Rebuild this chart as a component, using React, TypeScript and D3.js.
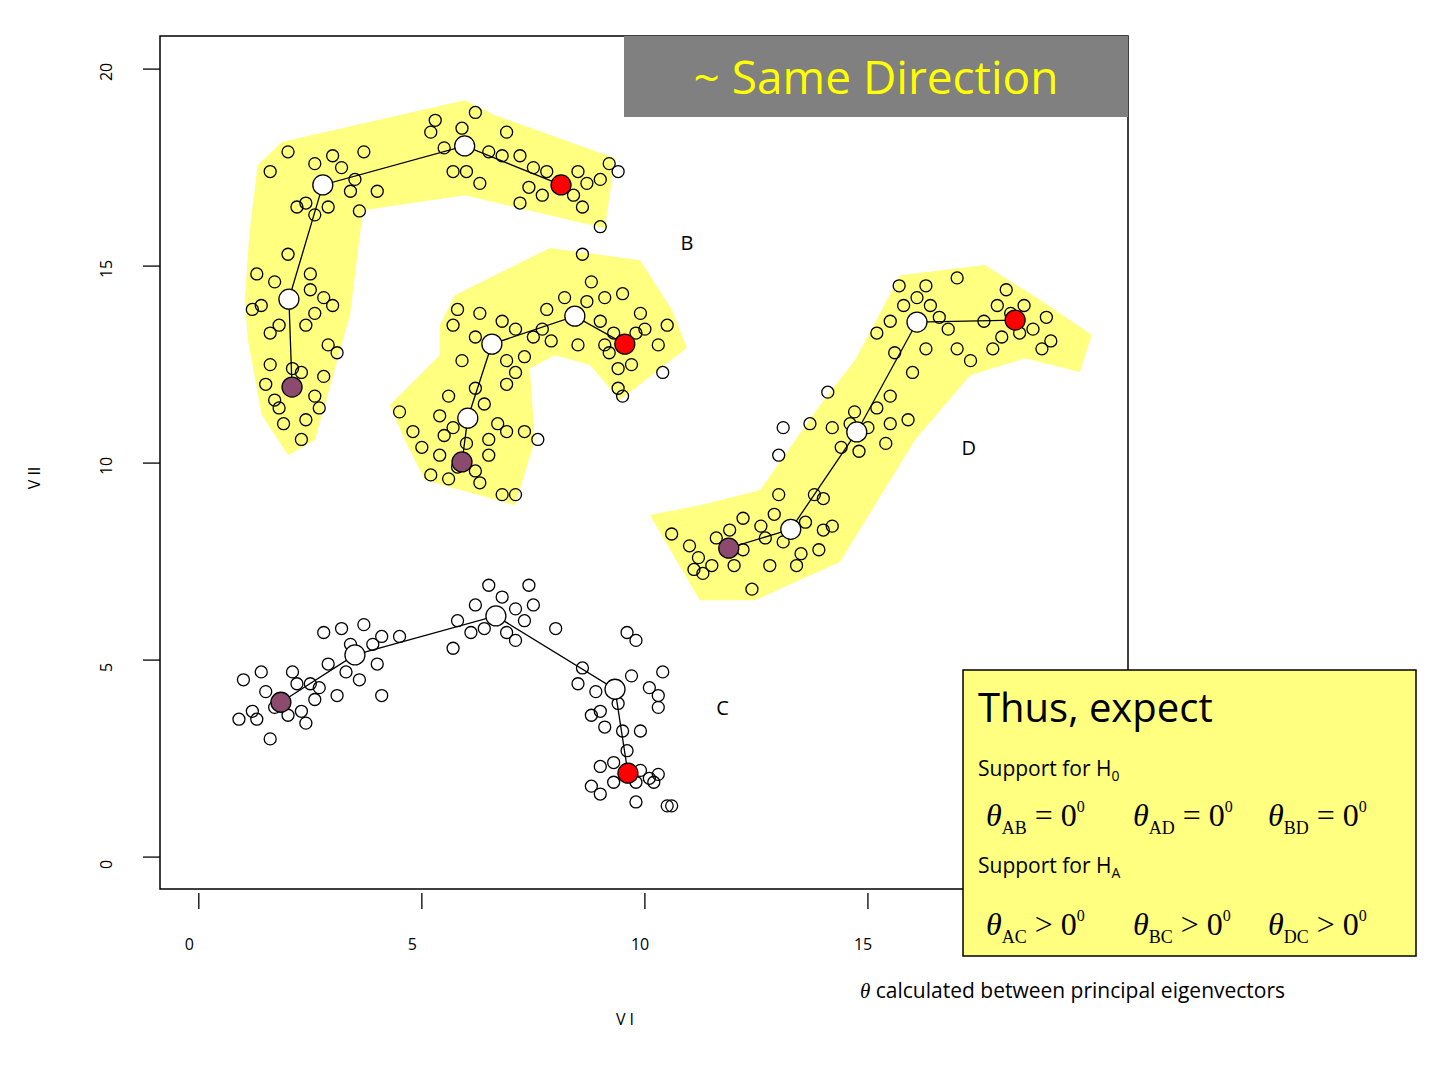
import React from 'react';
import * as d3 from 'd3';

type P = [number, number];

const xTicks = [0, 5, 10, 15];
const yTicks = [0, 5, 10, 15, 20];

// centroid paths per group: first = start (purple), last = end (red)
const centA: P[] = [[2.09, 11.93], [2.02, 14.16], [2.78, 17.06], [5.96, 18.05], [8.12, 17.06]];
const centB: P[] = [[5.9, 10.03], [6.03, 11.14], [6.57, 13.02], [8.43, 13.73], [9.55, 13.02]];
const centC: P[] = [[1.84, 3.93], [3.5, 5.13], [6.66, 6.12], [9.33, 4.26], [9.62, 2.13]];
const centD: P[] = [[11.88, 7.84], [13.27, 8.32], [14.75, 10.79], [16.1, 13.58], [18.3, 13.63]];

const hullA: P[] = [[1.32, 17.56], [1.86, 18.15], [5.96, 19.21], [6.64, 18.83], [9.33, 17.74], [9.1, 15.96], [5.96, 16.8], [3.68, 16.42], [3.39, 13.76], [2.6, 10.58], [2.0, 10.2], [1.41, 11.22], [1.1, 13.12], [1.03, 14.14], [1.14, 15.91]];
const hullB: P[] = [[5.4, 13.5], [5.74, 14.26], [7.87, 15.46], [9.89, 15.15], [10.61, 13.88], [10.94, 12.92], [9.44, 11.6], [8.77, 12.49], [7.98, 12.74], [7.42, 12.41], [7.53, 10.58], [7.09, 8.93], [5.07, 9.57], [4.62, 10.58], [4.28, 11.47], [5.4, 12.74]];
const hullD: P[] = [[10.11, 8.68], [11.23, 6.52], [12.47, 6.52], [14.37, 7.49], [16.05, 10.58], [17.29, 12.23], [18.52, 12.66], [19.75, 12.31], [20.02, 13.25], [18.86, 14.14], [17.62, 15.03], [15.72, 14.77], [14.71, 12.61], [13.92, 11.47], [12.58, 9.31], [11.23, 8.93]];

const ptsA: P[] = [
  [1.6, 12.5], [1.7, 11.6], [2.3, 12.3], [2.6, 11.7], [2.4, 11.1], [1.9, 11.0], [2.8, 12.2], [2.3, 10.6], [1.5, 12.0], [2.1, 12.4], [2.7, 11.4], [1.8, 11.4],
  [1.3, 14.8], [1.4, 14.0], [1.7, 14.6], [2.5, 14.4], [2.8, 14.2], [2.4, 13.5], [1.8, 13.5], [2.0, 15.3], [3.0, 14.0], [1.2, 13.9], [2.6, 13.8], [3.1, 12.8], [2.9, 13.0], [1.6, 13.3], [2.5, 14.8],
  [2.0, 17.9], [1.6, 17.4], [2.6, 17.6], [3.2, 17.5], [3.5, 17.2], [3.7, 17.9], [3.4, 16.9], [2.9, 16.5], [3.6, 16.4], [2.4, 16.6], [2.2, 16.5], [3.0, 17.8], [4.0, 16.9], [2.6, 16.3],
  [5.2, 18.4], [5.5, 18.0], [5.9, 18.5], [6.2, 18.9], [6.0, 17.4], [5.7, 17.4], [6.5, 17.9], [6.9, 18.4], [7.2, 17.8], [5.3, 18.7], [6.3, 17.1], [6.8, 17.8],
  [7.4, 17.0], [7.7, 16.8], [7.8, 17.4], [8.5, 17.4], [8.7, 17.1], [8.4, 16.8], [9.0, 17.2], [9.4, 17.4], [8.6, 16.5], [9.0, 16.0], [7.2, 16.6], [7.5, 17.5], [9.2, 17.6],
];
const ptsB: P[] = [
  [5.2, 9.7], [5.4, 10.2], [5.6, 9.6], [6.2, 9.8], [6.5, 10.2], [6.0, 10.5], [5.5, 10.7], [6.3, 9.5], [6.8, 9.2], [7.1, 9.2], [5.0, 10.4], [5.8, 9.9],
  [5.4, 11.2], [5.6, 11.7], [6.4, 11.5], [6.7, 11.0], [6.9, 10.8], [6.5, 10.6], [7.3, 10.8], [5.7, 10.9], [6.2, 11.9], [4.5, 11.3], [4.8, 10.8], [7.6, 10.6],
  [5.7, 13.5], [5.9, 12.6], [6.2, 13.2], [6.8, 13.6], [7.1, 13.4], [7.3, 12.7], [6.9, 12.6], [6.3, 13.8], [5.8, 13.9], [7.5, 13.2], [6.9, 12.0], [7.1, 12.3],
  [7.7, 13.4], [7.8, 13.9], [8.2, 14.2], [8.7, 14.1], [9.0, 13.6], [9.3, 13.3], [8.5, 13.0], [7.9, 13.1], [9.1, 14.2], [8.8, 14.6], [8.6, 15.3], [9.5, 14.3],
  [9.2, 12.8], [9.4, 12.4], [9.8, 13.3], [10.0, 13.4], [9.7, 12.5], [9.9, 13.8], [10.5, 13.5], [10.4, 12.3], [10.3, 13.0], [9.4, 11.9], [9.5, 11.7], [9.1, 13.0],
];
const ptsC: P[] = [
  [1.0, 4.5], [1.4, 4.7], [1.5, 4.2], [2.2, 4.4], [2.3, 3.7], [1.7, 3.8], [1.3, 3.5], [0.9, 3.5], [1.6, 3.0], [2.0, 3.6], [2.4, 3.4], [2.6, 4.0], [2.1, 4.7], [1.2, 3.7],
  [2.8, 5.7], [3.2, 5.8], [3.7, 5.9], [3.9, 5.4], [4.0, 4.9], [3.3, 4.7], [2.9, 4.9], [3.6, 4.5], [2.7, 4.3], [3.1, 4.1], [4.1, 4.1], [4.5, 5.6], [4.1, 5.6], [3.4, 5.4], [2.5, 4.4],
  [5.8, 6.0], [6.2, 6.4], [6.5, 6.9], [6.8, 6.6], [7.1, 6.3], [7.3, 6.0], [6.9, 5.7], [6.4, 5.8], [7.4, 6.9], [7.5, 6.4], [6.1, 5.7], [5.7, 5.3], [8.0, 5.8], [7.1, 5.5],
  [8.6, 4.8], [8.5, 4.4], [8.9, 4.2], [9.0, 3.7], [9.4, 3.9], [9.7, 4.6], [9.8, 5.5], [9.6, 5.7], [10.1, 4.3], [10.3, 4.1], [10.4, 4.7], [9.1, 3.3], [9.5, 3.2], [10.3, 3.8], [8.8, 3.6], [9.9, 3.2],
  [9.0, 2.3], [9.3, 2.4], [9.6, 2.7], [9.9, 2.2], [10.1, 2.0], [10.2, 1.9], [8.8, 1.8], [9.3, 1.9], [9.8, 1.9], [9.0, 1.6], [10.5, 1.3], [10.6, 1.3], [9.8, 1.4], [10.3, 2.1],
];
const ptsD: P[] = [
  [11.0, 7.9], [11.2, 7.6], [11.5, 7.4], [11.6, 8.1], [12.0, 7.4], [12.2, 7.8], [12.2, 8.6], [11.3, 7.2], [11.1, 7.3], [12.4, 6.8], [10.6, 8.2], [11.9, 8.3],
  [12.6, 8.4], [12.9, 8.7], [13.1, 8.0], [13.6, 8.5], [13.8, 9.2], [14.0, 8.3], [13.5, 7.7], [12.8, 7.4], [14.2, 8.4], [13.0, 9.2], [12.7, 8.1], [13.9, 7.8], [13.4, 7.4], [14.0, 9.1],
  [14.2, 10.9], [14.4, 10.4], [14.7, 11.3], [15.0, 10.9], [15.2, 11.4], [15.4, 10.5], [14.8, 10.3], [15.5, 11.0], [14.1, 11.8], [13.7, 11.0], [13.1, 10.9], [13.0, 10.2], [15.5, 11.7], [14.6, 11.0],
  [15.5, 13.6], [15.8, 14.0], [16.1, 14.2], [16.4, 14.0], [16.6, 13.7], [16.8, 13.4], [16.3, 12.9], [15.6, 12.8], [15.2, 13.3], [15.7, 14.5], [17.0, 12.9], [16.0, 12.3], [16.3, 14.5], [15.9, 11.1],
  [17.6, 13.6], [17.9, 14.0], [18.0, 13.2], [18.4, 13.3], [18.5, 14.0], [18.7, 13.4], [18.9, 12.9], [19.1, 13.1], [18.1, 14.4], [17.3, 12.6], [17.8, 12.9], [18.2, 13.8], [19.0, 13.7], [17.0, 14.7],
];

const groupLabels = [
  { t: 'B', x: 10.8, y: 15.4 },
  { t: 'C', x: 11.6, y: 3.6 },
  { t: 'D', x: 17.1, y: 10.2 },
];

const hulls = [hullA, hullB, hullD];
const pts = [ptsA, ptsB, ptsC, ptsD];
const cents = [centA, centB, centC, centD];

const L = 160, T = 36, R = 1128, B = 889;
const sans = 'Open Sans, Liberation Sans, sans-serif';

const Theta = ({ x, y, sub, op }: { x: number; y: number; sub: string; op: string }) => (
  <text x={x} y={y} fontFamily="Liberation Serif, serif" fontSize={32}>
    <tspan fontStyle="italic">θ</tspan>
    <tspan fontSize={18} dy={8}>{sub}</tspan>
    <tspan dy={-8}> {op} 0</tspan>
    <tspan fontSize={16} dy={-14}>0</tspan>
  </text>
);

export default function App() {
  const x = d3.scaleLinear().domain([-0.87, 20.83]).range([L, R]);
  const y = d3.scaleLinear().domain([-0.81, 20.84]).range([B, T]);
  const line = d3.line<P>().x((d) => x(d[0])).y((d) => y(d[1]));

  return (
    <svg width={1440} height={1080} style={{ position: 'absolute', left: 0, top: 0, background: '#fff' }}>
      {hulls.map((h, i) => (
        <path key={i} d={line(h) + 'Z'} fill="#ffff80" stroke="none" />
      ))}
      {pts.map((g, i) =>
        g.map((p, j) => (
          <circle key={`${i}-${j}`} cx={x(p[0])} cy={y(p[1])} r={6} fill="none" stroke="#000" strokeWidth={1.3} />
        ))
      )}
      {cents.map((c, i) => (
        <g key={i}>
          <path d={line(c) ?? ''} fill="none" stroke="#000" strokeWidth={1.3} />
          {c.map((p, j) => (
            <circle
              key={j}
              cx={x(p[0])}
              cy={y(p[1])}
              r={10}
              fill={j === 0 ? '#8b4a6e' : j === c.length - 1 ? '#ff0000' : '#fff'}
              stroke="#000"
              strokeWidth={1.3}
            />
          ))}
        </g>
      ))}
      {groupLabels.map((g) => (
        <text key={g.t} x={x(g.x)} y={y(g.y)} fontFamily={sans} fontSize={20}>{g.t}</text>
      ))}
      <rect x={L} y={T} width={R - L} height={B - T} fill="none" stroke="#000" strokeWidth={1.5} />
      {xTicks.map((t) => (
        <g key={t}>
          <line x1={x(t)} x2={x(t)} y1={B + 4} y2={B + 20} stroke="#000" strokeWidth={1.3} />
          <text x={x(t) - 14} y={950} fontFamily={sans} fontSize={16}>{t}</text>
        </g>
      ))}
      {yTicks.map((t) => (
        <g key={t}>
          <line x1={L - 17} x2={L} y1={y(t)} y2={y(t)} stroke="#000" strokeWidth={1.3} />
          <text transform={`translate(112,${y(t) + 12}) rotate(-90)`} fontFamily={sans} fontSize={16}>{t}</text>
        </g>
      ))}
      <text x={625} y={1025} fontFamily={sans} fontSize={16} textAnchor="middle">V I</text>
      <text transform="translate(40,478) rotate(-90)" fontFamily={sans} fontSize={16} textAnchor="middle">V II</text>

      <rect x={624} y={36} width={504} height={81} fill="#808080" />
      <text x={876} y={94} fontFamily={sans} fontSize={46} fill="#ffff00" textAnchor="middle">~ Same Direction</text>

      <rect x={963} y={670} width={453} height={286} fill="#ffff80" stroke="#000" strokeWidth={1.5} />
      <text x={978} y={722} fontFamily={sans} fontSize={40}>Thus, expect</text>
      <text x={978} y={776} fontFamily={sans} fontSize={21}>Support for H<tspan fontSize={14} dy={5}>0</tspan></text>
      <Theta x={986} y={826} sub="AB" op="=" />
      <Theta x={1133} y={826} sub="AD" op="=" />
      <Theta x={1268} y={826} sub="BD" op="=" />
      <text x={978} y={873} fontFamily={sans} fontSize={21}>Support for H<tspan fontSize={14} dy={5}>A</tspan></text>
      <Theta x={986} y={935} sub="AC" op=">" />
      <Theta x={1133} y={935} sub="BC" op=">" />
      <Theta x={1268} y={935} sub="DC" op=">" />
      <text x={860} y={998} fontFamily={sans} fontSize={21}>
        <tspan fontFamily="Liberation Serif, serif" fontStyle="italic">θ</tspan> calculated between principal eigenvectors
      </text>
    </svg>
  );
}
